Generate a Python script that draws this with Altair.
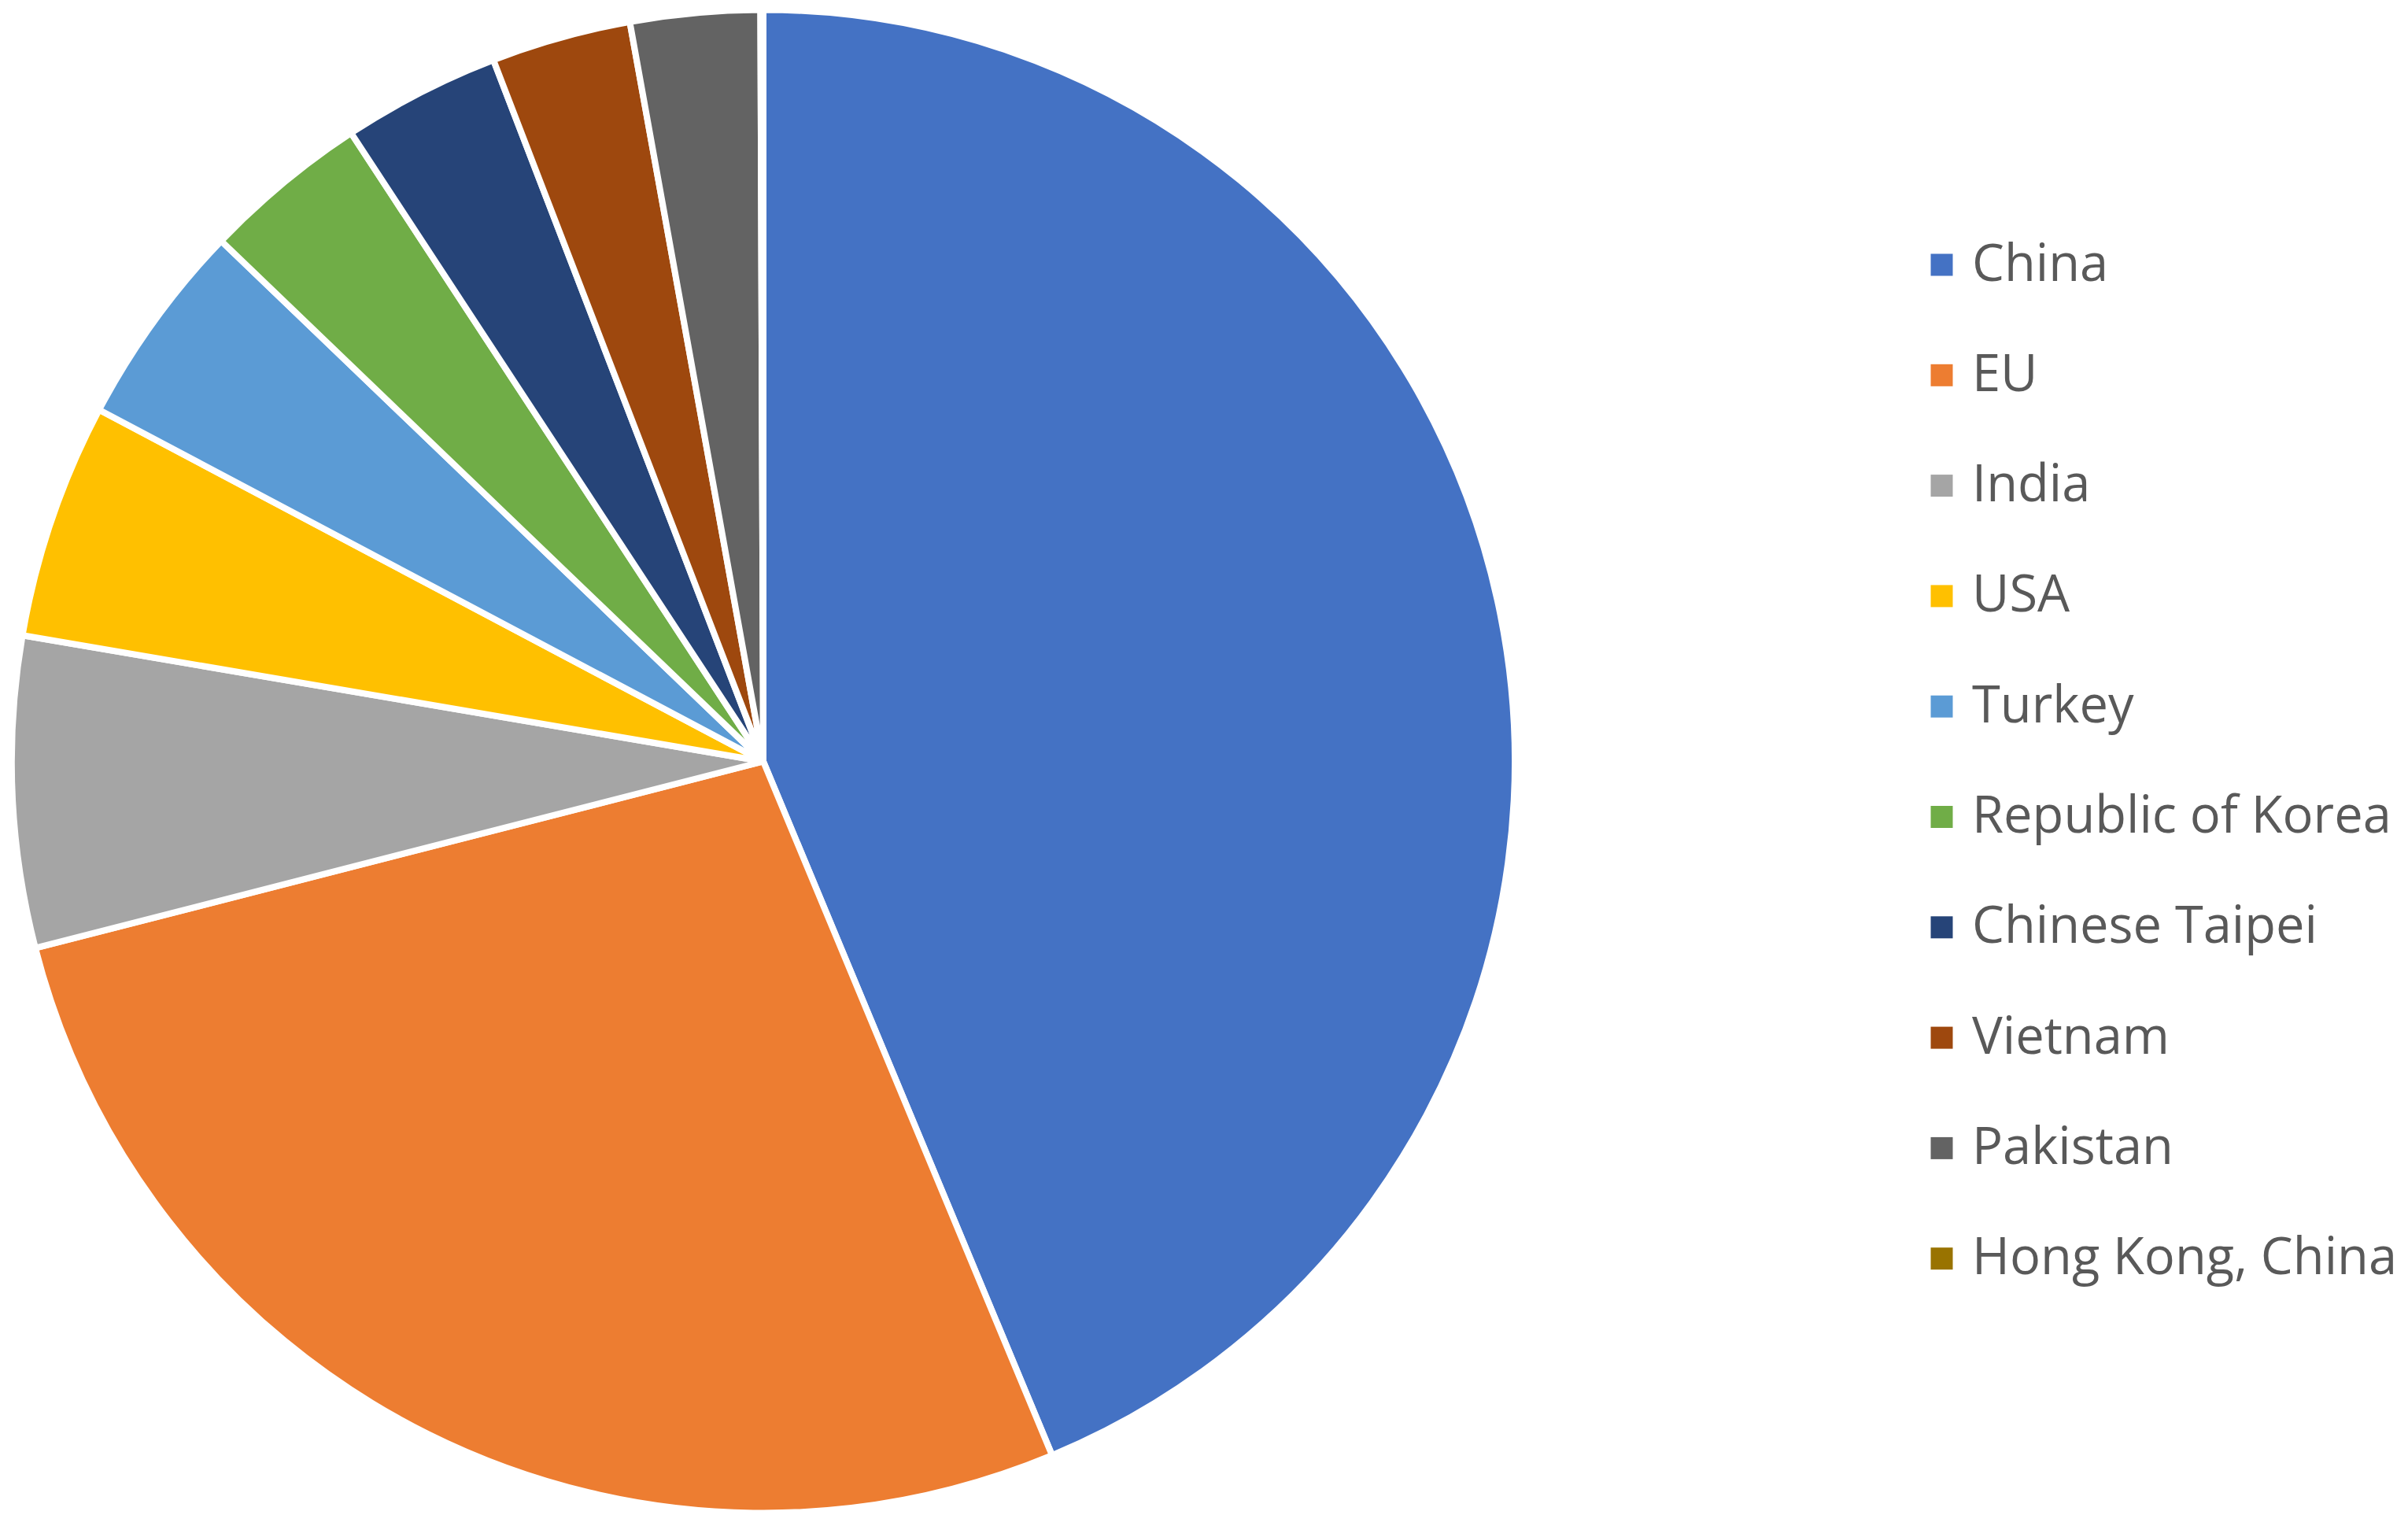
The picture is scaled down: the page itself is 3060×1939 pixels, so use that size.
import altair as alt
import pandas as pd

countries = ["China", "EU", "India", "USA", "Turkey", "Republic of Korea",
             "Chinese Taipei", "Vietnam", "Pakistan", "Hong Kong, China"]
shares = [43.67, 27.25, 6.67, 5.06, 4.42, 3.58, 3.39, 3.00, 2.78, 0.06]
colors = ["#4472C4", "#ED7D31", "#A5A5A5", "#FFC000", "#5B9BD5", "#70AD47",
          "#264478", "#9E480E", "#636363", "#997300"]

df = pd.DataFrame({"country": countries, "share": shares,
                   "idx": list(range(len(countries)))})

chart = alt.Chart(df).mark_arc(outerRadius=955, stroke="white", strokeWidth=8).encode(
    x=alt.value(962),
    y=alt.value(959.5),
    theta=alt.Theta("share:Q", stack=True),
    order=alt.Order("idx:Q", sort="ascending"),
    color=alt.Color(
        "country:N",
        sort=countries,
        scale=alt.Scale(domain=countries, range=colors),
        legend=alt.Legend(
            title=None,
            orient="none",
            legendX=2427,
            legendY=296,
            symbolType="square",
            symbolSize=784,
            symbolStrokeWidth=0,
            labelFont="Open Sans",
            labelFontSize=65,
            labelColor="#595959",
            labelOffset=6,
            labelLimit=1000,
            rowPadding=74.3,
            padding=0,
        ),
    ),
).properties(
    width=3044, height=1923, padding=0,
    autosize=alt.AutoSizeParams(type="none"),
).configure_view(stroke=None)

chart.save("out.html", embed_options={"renderer": "svg", "actions": False})
